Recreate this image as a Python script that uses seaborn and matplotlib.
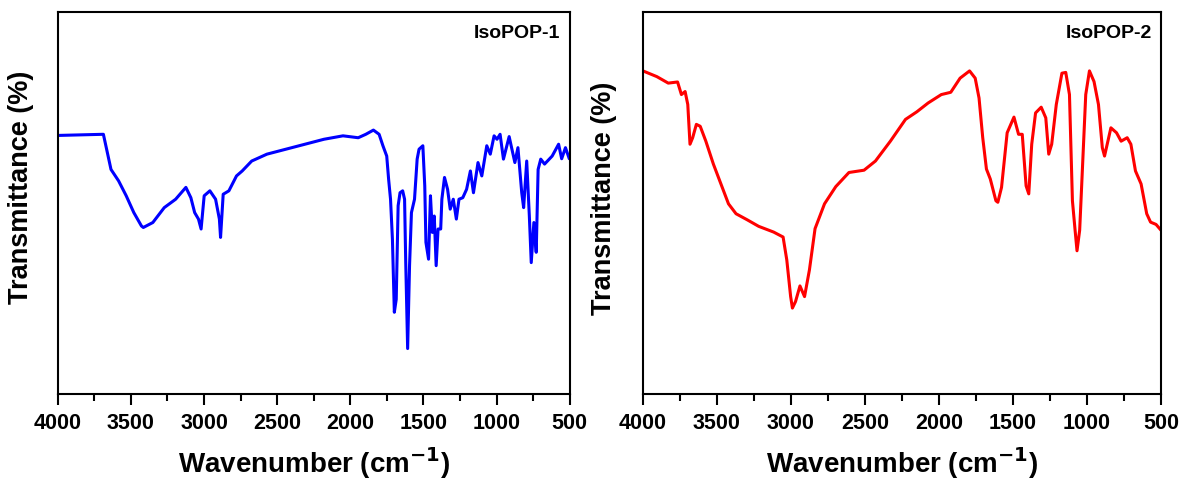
import matplotlib
matplotlib.use("Agg")
import matplotlib.pyplot as plt
from matplotlib.ticker import MultipleLocator
import numpy as np
import pandas as pd
import seaborn as sns

# ---- data ----
wn_pop1 = [4000, 3688, 3636, 3584, 3532, 3480, 3428, 3415, 3350, 3272, 3194, 3124,
           3090, 3064, 3038, 3020, 2999, 2960, 2921, 2895, 2887, 2869, 2830, 2778,
           2739, 2674, 2570, 2440, 2310, 2180, 2050, 1946, 1894, 1842, 1803, 1777,
           1751, 1738, 1725, 1712, 1699, 1686, 1673, 1660, 1642, 1629, 1621, 1608,
           1595, 1582, 1561, 1543, 1530, 1504, 1491, 1483, 1465, 1452, 1439, 1426,
           1413, 1400, 1382, 1374, 1356, 1335, 1317, 1296, 1275, 1257, 1231, 1205,
           1179, 1158, 1127, 1101, 1067, 1043, 1017, 997, 976, 953, 914, 875, 854,
           828, 815, 794, 776, 763, 745, 729, 716, 698, 672, 620, 576, 555, 529, 503]
t_pop1 = [67.7, 68.0, 58.8, 55.8, 51.9, 47.5, 44.0, 43.6, 44.9, 48.8, 51.0, 54.1,
          51.4, 47.5, 45.8, 43.2, 51.9, 53.2, 51.0, 45.8, 41.0, 52.3, 53.2, 57.1,
          58.4, 61.0, 62.8, 64.1, 65.4, 66.7, 67.6, 67.1, 68.0, 69.1, 68.0, 65.0,
          62.3, 56.2, 51.0, 40.5, 21.4, 24.8, 49.3, 52.7, 53.2, 51.0, 34.4, 11.9,
          33.6, 47.5, 51.0, 61.5, 64.1, 65.0, 54.5, 39.7, 35.3, 51.9, 42.3, 46.6,
          33.6, 43.2, 43.2, 51.0, 56.7, 53.6, 48.4, 51.0, 45.8, 51.0, 51.4, 53.6,
          58.4, 52.7, 60.6, 57.1, 65.0, 62.8, 67.6, 66.7, 68.0, 61.5, 67.4, 60.6, 64.5,
          52.7, 48.8, 61.0, 46.6, 34.4, 44.9, 37.1, 58.8, 61.5, 60.2, 62.3, 65.4, 61.6, 64.5, 61.6]

wn_pop2 = [4000, 3906, 3829, 3766, 3740, 3715, 3697, 3682, 3664, 3639, 3613, 3575,
           3524, 3473, 3422, 3371, 3295, 3218, 3117, 3053, 3028, 3002, 2990, 2969,
           2939, 2908, 2875, 2837, 2773, 2697, 2608, 2506, 2429, 2328, 2226, 2149,
           2073, 1984, 1920, 1857, 1793, 1755, 1729, 1704, 1679, 1653, 1615, 1602,
           1577, 1539, 1493, 1462, 1437, 1411, 1393, 1373, 1347, 1309, 1278, 1258,
           1238, 1207, 1169, 1143, 1118, 1098, 1080, 1067, 1049, 1029, 1008, 983,
           952, 922, 896, 881, 838, 800, 769, 728, 703, 672, 634, 596, 570, 533, 500]
t_pop2 = [84.6, 83.1, 81.4, 81.7, 78.4, 79.2, 75.8, 65.4, 67.1, 70.6, 70.1, 66.2,
          60.2, 55.0, 49.8, 47.2, 45.6, 43.9, 42.4, 41.1, 35.1, 25.5, 22.5, 24.2,
          28.3, 25.5, 32.5, 43.3, 49.8, 54.3, 58.0, 58.6, 61.0, 66.2, 71.9, 73.9,
          76.2, 78.4, 79.0, 82.7, 84.6, 82.7, 77.5, 67.1, 58.9, 56.3, 50.6, 50.2,
          54.1, 68.4, 72.5, 68.0, 68.0, 54.5, 52.4, 65.4, 73.6, 75.1, 72.3, 62.8,
          65.4, 75.8, 84.0, 84.2, 78.4, 50.6, 42.9, 37.5, 42.9, 60.2, 78.4, 84.6,
          81.8, 75.8, 64.5, 62.3, 69.7, 68.4, 66.2, 67.1, 65.4, 58.4, 55.0, 47.2, 45.0, 44.4, 42.9]

names = ["IsoPOP-1", "IsoPOP-2"]
colors = ["#0000FF", "#FF0000"]
x_ticks = [4000, 3500, 3000, 2500, 2000, 1500, 1000, 500]

sns.set_theme(style="white")
plt.rcParams["font.family"] = ["Liberation Sans", "DejaVu Sans"]
plt.rcParams["font.weight"] = "bold"
plt.rcParams["mathtext.default"] = "bf"
plt.rcParams["text.color"] = "black"
plt.rcParams["axes.labelcolor"] = "black"
plt.rcParams["xtick.color"] = "black"
plt.rcParams["ytick.color"] = "black"

fig = plt.figure(figsize=(11.81, 4.81), dpi=100)
ax1 = fig.add_axes([0.0489, 0.1788, 0.4335, 0.794])
ax2 = fig.add_axes([0.5444, 0.1788, 0.4386, 0.794])

datasets = [(wn_pop1, t_pop1), (wn_pop2, t_pop2)]
ylab_pos = [(-0.047, 0.545), (-0.05, 0.515)]
for ax, (wn, tt), name, col, yp in zip([ax1, ax2], datasets, names, colors, ylab_pos):
    df = pd.DataFrame({"wn": wn, "T": tt})
    sns.lineplot(data=df, x="wn", y="T", ax=ax, color=col, linewidth=2.2,
                 estimator=None, sort=False)
    ax.set_xlim(4000, 500)
    ax.set_ylim(0, 100)
    ax.set_xticks(x_ticks)
    ax.set_xticklabels([str(v) for v in x_ticks], fontsize=15.5, fontweight="bold",
                       color="black")
    ax.xaxis.set_minor_locator(MultipleLocator(250))
    ax.tick_params(axis="x", which="major", direction="out", length=8, width=1.5,
                   color="black", bottom=True, pad=5)
    ax.tick_params(axis="x", which="minor", direction="out", length=5, width=1.5,
                   color="black", bottom=True)
    ax.set_yticks([])
    for s in ax.spines.values():
        s.set_color("black")
        s.set_linewidth(1.5)
        s.set_visible(True)
    ax.set_xlabel("Wavenumber (cm$^{-1}$)", fontsize=20, fontweight="bold", labelpad=8,
                  color="black")
    ax.set_ylabel("Transmittance (%)", fontsize=19.5, fontweight="bold",
                  color="black")
    ax.yaxis.set_label_coords(yp[0], yp[1])
    ax.text(0.982, 0.968, name, transform=ax.transAxes, ha="right", va="top",
            fontsize=14, fontweight="bold", color="black")

fig.savefig("out.png", dpi=100)
